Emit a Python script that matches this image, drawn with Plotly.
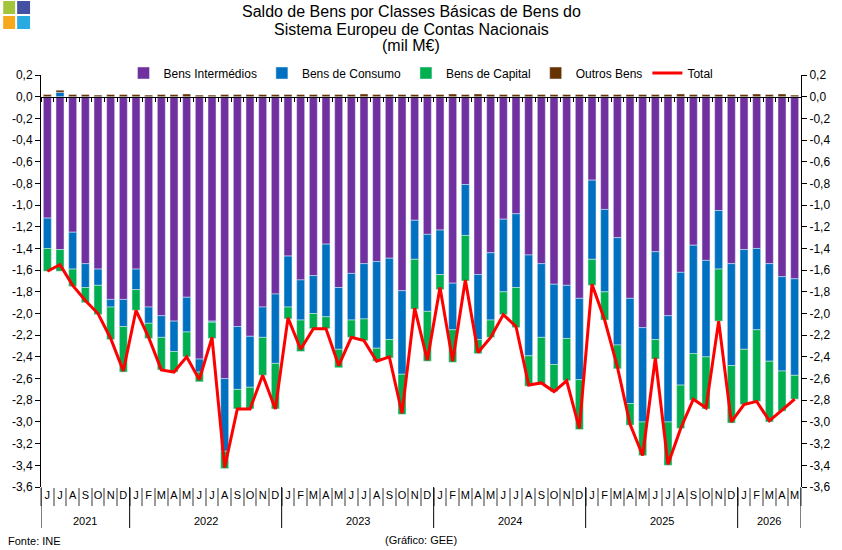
import plotly.graph_objects as go

# ---------------- data (mil M€) ----------------
month_initials = ["J", "F", "M", "A", "M", "J", "J", "A", "S", "O", "N", "D"]
month_labels = month_initials[5:] + month_initials * 4 + month_initials[:5]  # Jun 2021 .. May 2026
years = ["2021", "2022", "2023", "2024", "2025", "2026"]
months_per_year = [7, 12, 12, 12, 12, 5]

bens_intermedios = [-1.12, -1.41, -1.25, -1.54, -1.59, -1.87, -1.87, -1.59, -1.94, -2.02,
                    -2.07, -1.85, -2.42, -2.07, -2.60, -2.12, -2.21, -1.94, -1.82, -1.47,
                    -1.69, -1.65, -1.36, -1.76, -1.63, -1.54, -1.52, -1.49, -1.79, -1.14,
                    -1.27, -1.23, -1.72, -0.81, -1.64, -1.44, -1.13, -1.08, -1.46, -1.54,
                    -1.73, -1.74, -1.86, -0.77, -1.04, -1.30, -1.86, -2.13, -1.43, -2.02,
                    -1.62, -1.37, -1.51, -1.05, -1.54, -1.41, -1.40, -1.54, -1.66, -1.68]
bens_consumo = [-0.28, 0.04, -0.34, -0.22, -0.15, -0.07, -0.25, -0.19, -0.15, -0.20,
                -0.28, -0.32, -0.12, -0.01, -0.67, -0.58, -0.47, -0.28, -0.64, -0.47,
                -0.37, -0.35, -0.67, -0.57, -0.43, -0.51, -0.80, -0.75, -0.77, -0.36,
                -0.71, -0.41, -0.43, -0.47, -0.60, -0.62, -0.67, -0.68, -0.93, -0.68,
                -0.74, -0.49, -0.75, -0.73, -0.76, -0.99, -0.97, -0.87, -0.81, -0.98,
                -1.04, -1.00, -0.89, -0.54, -0.94, -0.92, -0.75, -0.90, -0.87, -0.89]
bens_capital = [-0.21, -0.20, -0.16, -0.14, -0.27, -0.30, -0.42, -0.19, -0.14, -0.30,
                -0.19, -0.23, -0.09, -0.15, -0.16, -0.18, -0.20, -0.35, -0.42, -0.11,
                -0.29, -0.14, -0.11, -0.17, -0.16, -0.20, -0.12, -0.17, -0.37, -0.46,
                -0.46, -0.14, -0.30, -0.42, -0.13, -0.16, -0.21, -0.37, -0.28, -0.43,
                -0.25, -0.39, -0.46, -0.24, -0.26, -0.22, -0.20, -0.31, -0.18, -0.40,
                -0.40, -0.43, -0.48, -0.48, -0.53, -0.51, -0.66, -0.56, -0.37, -0.22]
outros_bens = [0.02, 0.02, 0.02, 0.02, 0.015, 0.02, 0.02, 0.02, 0.015, 0.02,
               0.02, 0.025, 0.015, 0.015, 0.02, 0.02, 0.02, 0.02, 0.02, 0.02,
               0.02, 0.02, 0.02, 0.02, 0.02, 0.025, 0.02, 0.02, 0.02, 0.02,
               0.02, 0.02, 0.025, 0.02, 0.025, 0.02, 0.02, 0.02, 0.02, 0.02,
               0.02, 0.02, 0.02, 0.02, 0.02, 0.02, 0.02, 0.02, 0.02, 0.02,
               0.025, 0.02, 0.02, 0.02, 0.02, 0.02, 0.025, 0.02, 0.025, 0.015]
total = [-1.61, -1.55, -1.74, -1.88, -2.00, -2.23, -2.53, -1.97, -2.22, -2.52,
         -2.54, -2.40, -2.61, -2.22, -3.42, -2.88, -2.88, -2.57, -2.88, -2.04,
         -2.33, -2.14, -2.14, -2.48, -2.22, -2.25, -2.44, -2.40, -2.92, -1.95,
         -2.43, -1.76, -2.44, -1.69, -2.36, -2.22, -2.01, -2.12, -2.66, -2.64,
         -2.72, -2.62, -3.06, -1.73, -2.06, -2.49, -3.02, -3.31, -2.41, -3.39,
         -3.06, -2.79, -2.87, -2.07, -3.00, -2.84, -2.81, -2.99, -2.89, -2.79]

y_tick_vals = [0.2, 0.0, -0.2, -0.4, -0.6, -0.8, -1.0, -1.2, -1.4, -1.6, -1.8, -2.0,
               -2.2, -2.4, -2.6, -2.8, -3.0, -3.2, -3.4, -3.6]
y_tick_text = ["0,2", "0,0", "-0,2", "-0,4", "-0,6", "-0,8", "-1,0", "-1,2", "-1,4", "-1,6",
               "-1,8", "-2,0", "-2,2", "-2,4", "-2,6", "-2,8", "-3,0", "-3,2", "-3,4", "-3,6"]

title_lines = ["Saldo de Bens por Classes Básicas de Bens do",
               "Sistema Europeu de Contas Nacionais",
               "(mil M€)"]

# ---------------- layout helpers ----------------
W, H = 842, 550
L, R, T, B = 38, 40, 75, 63
PW, PH = W - L - R, H - T - B
FONT = "Liberation Sans, Arial, sans-serif"
y_range = [-3.6, 0.2]


def px_x(p):
    return (p - L) / PW


def px_y(p):
    return (H - B - p) / PH


n = len(month_labels)
x = list(range(n))

fig = go.Figure()
fig.add_trace(go.Bar(x=x, y=bens_intermedios, name="Bens Intermédios", marker_color="#7030A0"))
fig.add_trace(go.Bar(x=x, y=bens_consumo, name="Bens de Consumo", marker_color="#0070C0"))
fig.add_trace(go.Bar(x=x, y=bens_capital, name="Bens de Capital", marker_color="#00B050"))
fig.add_trace(go.Bar(x=x, y=outros_bens, name="Outros Bens", marker_color="#663300"))
fig.add_trace(go.Scatter(x=x, y=total, name="Total", mode="lines",
                         line=dict(color="#FF0000", width=3)))
# helper trace binding the overlay axes (zero line + right axis)
fig.add_trace(go.Scatter(x=x, y=total, xaxis="x2", yaxis="y2", mode="lines",
                         line=dict(width=0), opacity=0, showlegend=False, hoverinfo="skip"))

shapes = []
# year separators and extended outer axis lines
bounds = [-0.5]
for c in months_per_year:
    bounds.append(bounds[-1] + c)
for b in bounds:
    shapes.append(dict(type="line", xref="x", yref="paper", x0=b, x1=b,
                       y0=0, y1=px_y(528), line=dict(color="black", width=1)))

annotations = []
for i, yr in enumerate(years):
    mid = (bounds[i] + bounds[i + 1]) / 2
    annotations.append(dict(text=yr, x=mid, xref="x", y=px_y(521), yref="paper",
                            showarrow=False, font=dict(size=11), xanchor="center", yanchor="middle"))

for k, line in enumerate(title_lines):
    annotations.append(dict(text=line, x=px_x(410), xref="paper", y=px_y(12 + 17 * k), yref="paper",
                            showarrow=False, font=dict(size=16), xanchor="center", yanchor="middle"))

annotations.append(dict(text="Fonte: INE", x=px_x(3), xref="paper", y=px_y(541), yref="paper",
                        showarrow=False, font=dict(size=11), xanchor="left", yanchor="middle"))
annotations.append(dict(text="(Gráfico: GEE)", x=px_x(420), xref="paper", y=px_y(540), yref="paper",
                        showarrow=False, font=dict(size=11), xanchor="center", yanchor="middle"))

# logo
logo = [((0, 1, 12, 14), "#A3C53C"), ((14, 1, 27, 14), "#4451A3"),
        ((0, 16, 12, 29), "#F7A91E"), ((14, 16, 27, 29), "#29ABE2")]
for (x0, y0, x1, y1), col in logo:
    shapes.append(dict(type="rect", xref="paper", yref="paper",
                       x0=px_x(x0), x1=px_x(x1), y0=px_y(y0), y1=px_y(y1),
                       fillcolor=col, line=dict(width=0)))

zero_pos = (0 - y_range[0]) / (y_range[1] - y_range[0])

fig.update_layout(
    width=W, height=H, autosize=False,
    margin=dict(l=L, r=R, t=T, b=B, pad=0),
    paper_bgcolor="white", plot_bgcolor="white",
    font=dict(family=FONT, size=12, color="black"),
    barmode="relative", bargap=0.37,
    showlegend=True,
    legend=dict(orientation="h", x=0.5, xanchor="center", y=px_y(73), yanchor="middle",
                font=dict(size=12), traceorder="normal", bgcolor="rgba(0,0,0,0)",
                itemwidth=30),
    xaxis=dict(range=[-0.5, n - 0.5], tickmode="array", tickvals=x, ticktext=month_labels,
               ticks="", showline=False, showgrid=False, zeroline=False,
               tickfont=dict(size=11),
               minor=dict(tickmode="linear", tick0=-0.5, dtick=1, ticks="outside",
                          ticklen=18, tickcolor="#9a9a9a", tickwidth=2, showgrid=False)),
    xaxis2=dict(range=[-0.5, n - 0.5], overlaying="x", anchor="free", position=zero_pos,
                side="bottom", showline=True, linecolor="black", linewidth=1,
                tickmode="array", tickvals=[b + 0.5 for b in range(-1, n)],
                ticks="outside", ticklen=4, tickcolor="black", showticklabels=False,
                showgrid=False, zeroline=False),
    yaxis=dict(range=y_range, tickmode="array", tickvals=y_tick_vals, ticktext=y_tick_text,
               ticks="outside", ticklen=5, tickcolor="black", showline=True, linecolor="black",
               showgrid=False, zeroline=False, tickfont=dict(size=12)),
    yaxis2=dict(range=y_range, overlaying="y", side="right", anchor="x",
                tickmode="array", tickvals=y_tick_vals, ticktext=y_tick_text,
                ticks="outside", ticklen=5, tickcolor="black", showline=True, linecolor="black",
                showgrid=False, zeroline=False, tickfont=dict(size=12)),
    shapes=shapes,
    annotations=annotations,
)

fig.write_html("out.html")
